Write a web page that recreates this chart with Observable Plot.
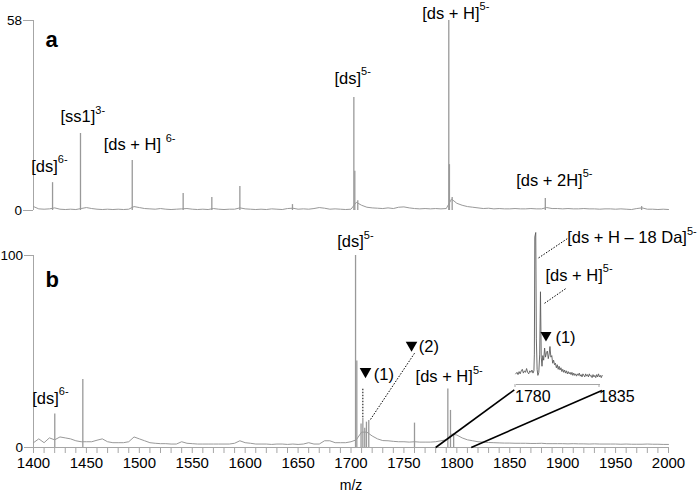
<!DOCTYPE html>
<html><head><meta charset="utf-8">
<script src="https://cdn.jsdelivr.net/npm/d3@7"></script>
<script src="https://cdn.jsdelivr.net/npm/@observablehq/plot@0.6"></script>
<style>
body{margin:0;background:#fff}
#wrap{position:relative;width:700px;height:501px;font-family:"Liberation Sans",Arial,sans-serif}
#wrap svg{position:absolute;left:0;top:0}
</style></head><body><div id="wrap"></div>
<script>
// ---------- data ----------
const xDomain = [1400, 2000];
const xTickLabels = [1400,1450,1500,1550,1600,1650,1700,1750,1800,1850,1900,1950,2000];
const xMinorTicks = d3.range(1400, 2001, 10);
const yTicksA = [0, 58];
const yTicksB = [0, 100];
const insetDomain = [1780, 1835];
const insetTicks = [1780, 1835];

// baseline (noise) sampled every 5 m/z from 1400 to 2000
const baseStart = 1400, baseStep = 5;
const baseA = [
 1.2,0.5,0.4,0.5,0.8,0.4,0.3,0.4,0.3,0.6,
 0.9,0.6,0.4,0.3,0.4,0.3,0.4,0.3,0.4,1.2,
 0.9,0.6,0.5,0.4,0.6,0.4,0.3,0.4,0.5,0.6,
 0.4,0.3,0.4,0.3,0.6,0.4,0.3,0.4,0.4,0.8,
 0.5,0.4,0.3,0.4,0.3,0.5,0.4,0.3,0.6,0.7,
 0.4,0.5,0.4,0.6,0.9,0.7,0.4,0.5,0.4,0.3,
 0.4,2.5,1.6,1.0,0.8,0.7,0.6,0.8,0.6,1.0,
 1.1,0.8,0.6,0.5,0.6,0.5,0.6,0.5,0.6,3.5,
 2.2,1.6,1.2,1.0,0.8,0.6,0.7,0.5,0.6,0.5,
 0.5,0.6,0.5,0.5,0.6,0.5,0.5,0.9,0.6,0.6,
 0.5,0.6,0.5,0.5,0.6,0.5,0.5,0.4,0.5,0.5,
 0.4,0.5,0.4,0.3,0.6,0.8,0.4,0.4,0.3,0.4,
 0.3];
const baseB = [
 2.5,4.5,2.5,5.0,4.0,5.5,5.0,4.5,3.5,3.0,
 3.0,3.0,3.8,4.5,3.0,2.5,2.5,2.5,3.0,5.5,
 4.5,3.5,2.5,2.2,2.0,2.0,1.8,1.8,3.0,2.2,
 2.0,1.8,1.8,1.8,1.8,1.8,1.8,1.8,2.2,3.5,
 2.5,2.2,1.8,1.8,1.8,1.6,1.8,1.8,1.6,1.8,
 1.6,1.8,2.5,1.8,1.8,3.5,3.5,2.5,2.5,2.5,
 3.0,4.0,8.0,8.0,6.0,4.5,3.6,3.5,3.2,3.0,
 3.0,2.8,3.0,2.8,2.8,2.8,3.0,3.5,4.0,7.0,
 6.5,5.0,4.0,3.5,3.0,2.8,2.6,2.5,2.4,2.3,
 2.3,2.2,2.2,2.2,2.1,2.1,2.2,2.0,2.0,2.0,
 2.0,1.9,2.0,1.9,1.9,1.8,1.9,1.8,1.8,1.8,
 1.8,1.7,1.8,1.7,1.7,1.7,1.8,1.7,1.7,1.6,
 1.6];

// peaks (m/z, intensity)
const peakMzA  = [1418.0,1444.4,1493.3,1541.4,1568.5,1595.0,1644.7,1702.7,1703.6,1706.4,1792.4,1793.0,1795.6,1883.6,1974.6];
const peakIntA = [   8.5,  23.5,  15.3,   5.2,   4.0,   7.3,   1.8,  34.5,  12.0,   3.0,  58.0,  14.0,   4.0,   3.7,   1.2];
const peakMzB  = [1420.1,1446.6,1704.3,1705.5,1709.5,1711.2,1713.0,1714.6,1716.8,1760.0,1791.5,1794.0,1797.0];
const peakIntB = [  17.5,  35.4, 100.0,  45.0,  12.3,  15.0,  10.0,  13.2,  14.0,  12.7,  30.5,  19.3,   7.0];

// inset spectrum 1780–1835 (relative intensity)
const insetMz = [1779.5,1780.3,1781.0,1781.7,1782.4,1783.1,1783.8,1784.5,1785.2,1785.9,1786.6,1787.3,1788.0,1788.7,1789.4,1790.1,1790.8,1791.4,1791.7,1792.0,1792.6,1793.0,1793.5,1794.0,1794.6,1795.2,1795.7,1796.2,1796.7,1797.2,1797.8,1798.4,1799.0,1799.6,1800.2,1800.8,1801.4,1801.9,1802.5,1803.1,1803.7,1804.3,1804.9,1805.5,1806.1,1806.7,1807.3,1807.9,1808.5,1809.1,1809.7,1810.3,1810.9,1811.5,1812.1,1812.7,1813.3,1813.9,1814.5,1815.1,1815.7,1816.3,1816.9,1817.5,1818.1,1818.7,1819.3,1819.9,1820.5,1821.1,1821.7,1822.3,1822.9,1823.5,1824.1,1824.7,1825.3,1825.9,1826.5,1827.1,1827.7,1828.3,1828.9,1829.5,1830.1,1830.7,1831.3,1831.9,1832.5,1833.1,1833.7,1834.3,1834.9,1835.5,1836.1];
const insetInt = [7,8,6.5,8.5,7,9,10,7.5,9,8,10.5,8,7,9,8,9.5,7.5,9,20,97,100,30,10,6,8,20,61,18,12,19,16,24,18,21,22,17,20,25,18,19,14,16,13,14,11,13,10,12,9.5,11,8.5,10,8,9.5,7.5,9,7,8.5,7,8,6.5,8,6,7.5,6,7,5.5,7,6,7.5,5.5,6.5,5,7,6,5,7,5.5,6.5,5,7,5.5,6,4.5,6.5,5,6,4.5,6.5,5,7,5,6,4.5,6];

// annotations (data units)
const labelsA = [
  {t:"[ds]", s:"6-", mz:1397.8, y:13.5},
  {t:"[ss1]", s:"3-", mz:1425.5, y:28.5},
  {t:"[ds + H] ", s:"6-", mz:1466.4, y:20.0},
  {t:"[ds]", s:"5-", mz:1684.4, y:40.3},
  {t:"[ds + H]", s:"5-", mz:1767.3, y:60.1},
  {t:"[ds + 2H]", s:"5-", mz:1856.1, y:9.2}
];
const labelsB = [
  {t:"[ds]", s:"6-", mz:1398.8, y:25.5},
  {t:"[ds]", s:"5-", mz:1687.0, y:107.0},
  {t:"[ds + H]", s:"5-", mz:1761.0, y:36.7},
  {t:"(1)", s:"", mz:1721.6, y:38.0},
  {t:"(2)", s:"", mz:1764.1, y:52.3}
];
const labelsInset = [
  {t:"[ds + H \u2013 18 Da]", s:"5-", mz:1813.2, y:96.5},
  {t:"[ds + H]", s:"5-", mz:1799.0, y:71.8},
  {t:"(1)", s:"", mz:1805.5, y:30.7}
];
const trianglesB = [{mz:1713.7, y:39.6}, {mz:1757.2, y:53.3}];
const trianglesInset = [{mz:1799.3, y:32.5}];
const leadersB = [
  {x1:1711.2, y1:30.6, x2:1711.2, y2:14.9},
  {x1:1760.0, y1:49.1, x2:1717.8, y2:14.1}
];
const leadersInset = [
  {x1:1813.2, y1:95.9, x2:1793.6, y2:82.7},
  {x1:1812.1, y1:63.0, x2:1797.9, y2:53.1}
];
const zoomLinks = [
  {x1:1780.0, y1:0, x2:1854.3, y2:30.0},
  {x1:1813.6, y1:0, x2:1937.1, y2:29.7}
];

// ---------- tables ----------
const tblBase = arr => arr.map((v, i) => ({mz: baseStart + i * baseStep, v}));
const tblPeaks = (m, h) => m.map((mz, i) => ({mz, v: h[i]}));
const baseTA = tblBase(baseA), baseTB = tblBase(baseB);
const peaksTA = tblPeaks(peakMzA, peakIntA), peaksTB = tblPeaks(peakMzB, peakIntB);
const insetT = tblPeaks(insetMz, insetInt);

// ---------- style ----------
const FONT = '"Liberation Sans", Arial, Helvetica, sans-serif';
const specColor = "#999", axisColor = "#a6a6a6";
const W = 700, H = 501;
const svgStyle = {fontFamily: FONT, background: "transparent", overflow: "visible"};
const lblText = d => d.s ? d.t + "^" + d.s : d.t;
const labelMark = data => Plot.text(data, {x:"mz", y:"y", text: lblText, textAnchor:"start", fontSize:16.5, fill:"#000"});
const noLabel = () => "";

const plotA = Plot.plot({
  width: W, height: H, marginLeft: 33, marginRight: 32, marginTop: 20, marginBottom: 291,
  style: svgStyle,
  x: {domain: xDomain, axis: null},
  y: {domain: [yTicksA[0], yTicksA[1]], axis: null},
  marks: [
    Plot.ruleX([xDomain[0]], {stroke: axisColor}),
    Plot.axisY({ticks: yTicksA, tickSize: 10, tickPadding: 1.5, stroke: axisColor, fill: "#000", fontSize: 13.5, tickFormat: d => String(d)}),
    Plot.line(baseTA, {x:"mz", y:"v", stroke: specColor, strokeWidth: 1}),
    Plot.ruleX(peaksTA, {x:"mz", y1: 0, y2:"v", stroke: specColor, strokeWidth: 1.3}),
    labelMark(labelsA),
    Plot.text(["a"], {frameAnchor:"top-left", dx: 12, dy: 11, textAnchor:"start", fontSize: 22, fontWeight: "bold", fill:"#000"})
  ]
});

const plotB = Plot.plot({
  width: W, height: H, marginLeft: 33, marginRight: 32, marginTop: 255, marginBottom: 54,
  style: svgStyle,
  x: {domain: xDomain, axis: null},
  y: {domain: [yTicksB[0], yTicksB[1]], axis: null},
  marks: [
    Plot.ruleX([xDomain[0]], {stroke: axisColor}),
    Plot.ruleY([0], {stroke: axisColor}),
    Plot.axisY({ticks: yTicksB, tickSize: 9, tickPadding: 1.5, stroke: axisColor, fill: "#000", fontSize: 13.5, tickFormat: d => String(d)}),
    Plot.axisX({ticks: xMinorTicks, tickSize: 6, tickPadding: 0, tickFormat: noLabel, stroke: axisColor}),
    Plot.axisX({ticks: xTickLabels, tickSize: 0, tickPadding: 9.5, fill: "#000", fontSize: 15, tickFormat: d => String(d)}),
    Plot.text(["m/z"], {frameAnchor: "bottom", dy: 42, fontSize: 14, fill: "#000"}),
    Plot.line(baseTB, {x:"mz", y:"v", stroke: specColor, strokeWidth: 1}),
    Plot.ruleX(peaksTB, {x:"mz", y1: 0, y2:"v", stroke: specColor, strokeWidth: 1.3}),
    Plot.link(leadersB, {x1:"x1", y1:"y1", x2:"x2", y2:"y2", stroke:"#000", strokeWidth: 1, strokeDasharray: "1.5,1.5"}),
    Plot.link(zoomLinks, {x1:"x1", y1:"y1", x2:"x2", y2:"y2", stroke:"#000", strokeWidth: 1.6}),
    Plot.dot(trianglesB, {x:"mz", y:"y", symbol:"triangle", r: 4.3, rotate: 180, fill:"#000", stroke: "none"}),
    labelMark(labelsB),
    Plot.text(["b"], {frameAnchor:"top-left", dx: 12, dy: 16, textAnchor:"start", fontSize: 22, fontWeight: "bold", fill:"#000"})
  ]
});

const plotI = Plot.plot({
  width: W, height: H, marginLeft: 516, marginRight: 100, marginTop: 232, marginBottom: 117,
  style: svgStyle,
  x: {domain: insetDomain, axis: null},
  y: {domain: [0, 100], axis: null},
  marks: [
    Plot.ruleY([0], {stroke: axisColor}),
    Plot.axisX({ticks: insetTicks, tickSize: 3, tickPadding: 3, textAnchor: "start", dx: -1.5, stroke: axisColor, fill: "#000", fontSize: 16, tickFormat: d => String(d)}),
    Plot.line(insetT, {x:"mz", y:"v", stroke: "#5a5a5a", strokeWidth: 0.9}),
    Plot.link(leadersInset, {x1:"x1", y1:"y1", x2:"x2", y2:"y2", stroke:"#000", strokeWidth: 1, strokeDasharray: "1.5,1.5"}),
    Plot.dot(trianglesInset, {x:"mz", y:"y", symbol:"triangle", r: 4.1, rotate: 180, fill:"#000", stroke: "none"}),
    labelMark(labelsInset)
  ]
});

function applySup(svg) {
  d3.select(svg).selectAll("text").each(function() {
    const t = this.textContent;
    if (t === "") { this.remove(); return; }
    const k = t.indexOf("^");
    if (k < 0) return;
    const sel = d3.select(this);
    sel.text(null).style("white-space", "pre");
    sel.append("tspan").text(t.slice(0, k));
    sel.append("tspan").attr("font-size", 11).attr("dy", -8.5).text(t.slice(k + 1));
  });
  return svg;
}

const wrap = document.getElementById("wrap");
[plotA, plotB, plotI].forEach(p => wrap.appendChild(applySup(p)));
</script></body></html>
